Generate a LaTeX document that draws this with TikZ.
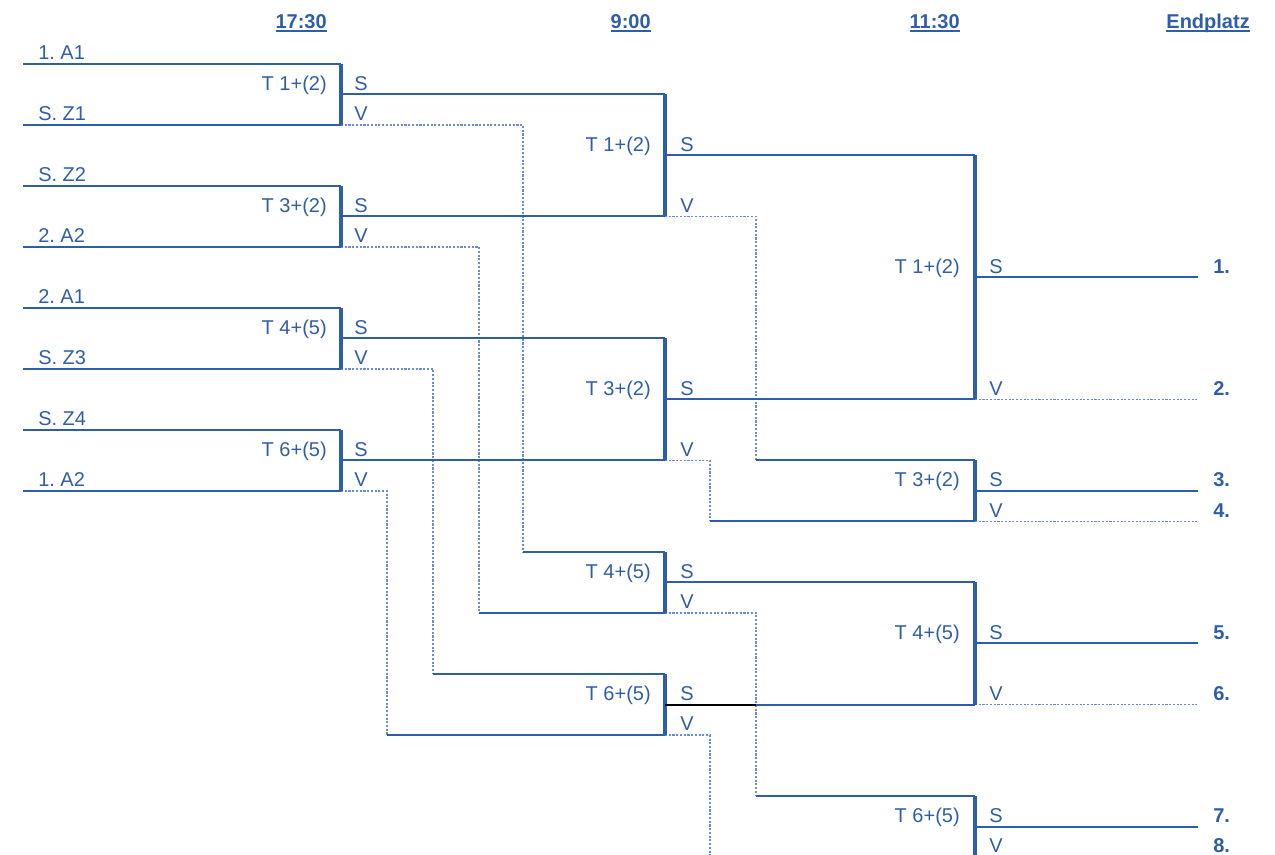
\documentclass[tikz,border=0pt]{standalone}
\usepackage{fontspec}
\setmainfont{Liberation Sans}
\frenchspacing
\definecolor{tblau}{RGB}{47,94,168}
\definecolor{hblau}{RGB}{105,140,205}
\newcommand\ustrich[1]{\leavevmode\setbox0\hbox{#1}\rlap{\rule[-3pt]{\wd0}{1.4pt}}\box0}
\tikzset{
  sieg/.style={draw=tblau, line width=1.5pt},
  balken/.style={draw=tblau, line width=2.8pt},
  verl/.style={draw=hblau, line width=0.8pt, dash pattern=on 1.6pt off 1.2pt},
  txt/.style={text=tblau, inner sep=0pt, font=\fontsize{15}{18}\selectfont\frenchspacing},
  team/.style={txt, anchor=base west},
  spiel/.style={txt, anchor=base east},
  kopf/.style={txt, anchor=base east, font=\fontsize{15}{18}\selectfont\bfseries},
  platz/.style={txt, anchor=base west, font=\fontsize{15}{18}\selectfont\bfseries},
}
\begin{document}
\begin{tikzpicture}[x=0.75pt, y=-22.875pt]
	\useasboundingbox (0,-2.098) rectangle (1275,25.934);
	
	% Kopfzeile
	\node[kopf] (z1) at (327,-1.18) {\ustrich{17:30}};
	\node[kopf] (z2) at (651,-1.18) {\ustrich{9:00}};
	\node[kopf] (z3) at (960,-1.18) {\ustrich{11:30}};
	\node[kopf] (z4) at (1250,-1.18) {\ustrich{Endplatz}};
	
	% Runde 1 (17:30)
	\foreach \ko/\oben/\unten/\spl/\sx/\ziel [count=\i] in {0/1. A1/S. Z1/T 1+(2)/523/16, 4/S. Z2/2. A2/T 3+(2)/479/18, 8/2. A1/S. Z3/T 4+(5)/433/20, 12/S. Z4/1. A2/T 6+(5)/387/22}{
		\pgfmathtruncatemacro\km{\ko+1}
		\pgfmathtruncatemacro\ku{\ko+2}
		\coordinate (a\i-o) at (23,\ko);
		\coordinate (a\i-u) at (23,\ku);
		\coordinate (b\i-o) at (341,\ko);
		\coordinate (b\i-s) at (341,\km);
		\coordinate (b\i-u) at (341,\ku);
		\coordinate (c\i) at (\sx,\ziel);
		\draw[verl] (b\i-u) -| (c\i);
		\draw[sieg] (c\i) -- (665,\ziel);
		\draw[sieg] (b\i-s) -- (665,\km);
		\draw[sieg] (a\i-o) -- (b\i-o);
		\draw[sieg] (a\i-u) -- (b\i-u);
		\draw[balken] (b\i-o) -- (b\i-u);
		\node[team] (t\i-o) at (38,\ko-0.14) {\oben};
		\node[team] (t\i-u) at (38,\ku-0.14) {\unten};
		\node[spiel] (m\i) at (327,\km-0.14) {\spl};
		\node[team] (s\i) at (354,\km-0.14) {S};
		\node[team] (v\i) at (354,\ku-0.14) {V};
	}
	
	% Runde 2 (9:00)
	\foreach \ko/\ku/\spl/\sx/\ziel [count=\i] in {1/5/T 1+(2)/756/13, 9/13/T 3+(2)/710/15, 16/18/T 4+(5)/756/24, 20/22/T 6+(5)/710/26}{
		\pgfmathtruncatemacro\km{(\ko+\ku)/2}
		\coordinate (d\i-o) at (665,\ko);
		\coordinate (d\i-s) at (665,\km);
		\coordinate (d\i-u) at (665,\ku);
		\coordinate (e\i) at (\sx,\ziel);
		\draw[verl] (d\i-u) -| (e\i);
		\draw[sieg] (e\i) -- (975,\ziel);
		\draw[sieg] (d\i-s) -- (975,\km);
		\draw[balken] (d\i-o) -- (d\i-u);
		\node[spiel] (mm\i) at (651,\km-0.14) {\spl};
		\node[team] (ss\i) at (680,\km-0.14) {S};
		\node[team] (vv\i) at (680,\ku-0.14) {V};
	}
	\draw[sieg, draw=black] (d4-s) -- +(91,0);
	
	% Runde 3 (11:30) und Endplatz
	\foreach \ko/\ku/\spl/\pl [count=\i] in {3/11/T 1+(2)/1, 13/15/T 3+(2)/3, 17/21/T 4+(5)/5, 24/26/T 6+(5)/7}{
		\pgfmathtruncatemacro\km{(\ko+\ku)/2}
		\pgfmathtruncatemacro\pv{\pl+1}
		\coordinate (f\i-o) at (975,\ko);
		\coordinate (f\i-s) at (975,\km);
		\coordinate (f\i-u) at (975,\ku);
		\coordinate (g\i-s) at (1198,\km);
		\coordinate (g\i-u) at (1198,\ku);
		\draw[verl] (f\i-u) -- (g\i-u);
		\draw[sieg] (f\i-s) -- (g\i-s);
		\draw[balken] (f\i-o) -- (f\i-u);
		\node[spiel] (mmm\i) at (960,\km-0.14) {\spl};
		\node[team] (sss\i) at (989,\km-0.14) {S};
		\node[team] (vvv\i) at (989,\ku-0.14) {V};
		\node[platz] (p\i-s) at (1213,\km-0.14) {\pl.};
		\node[platz] (p\i-v) at (1213,\ku-0.14) {\pv.};
	}
\end{tikzpicture}
\end{document}
